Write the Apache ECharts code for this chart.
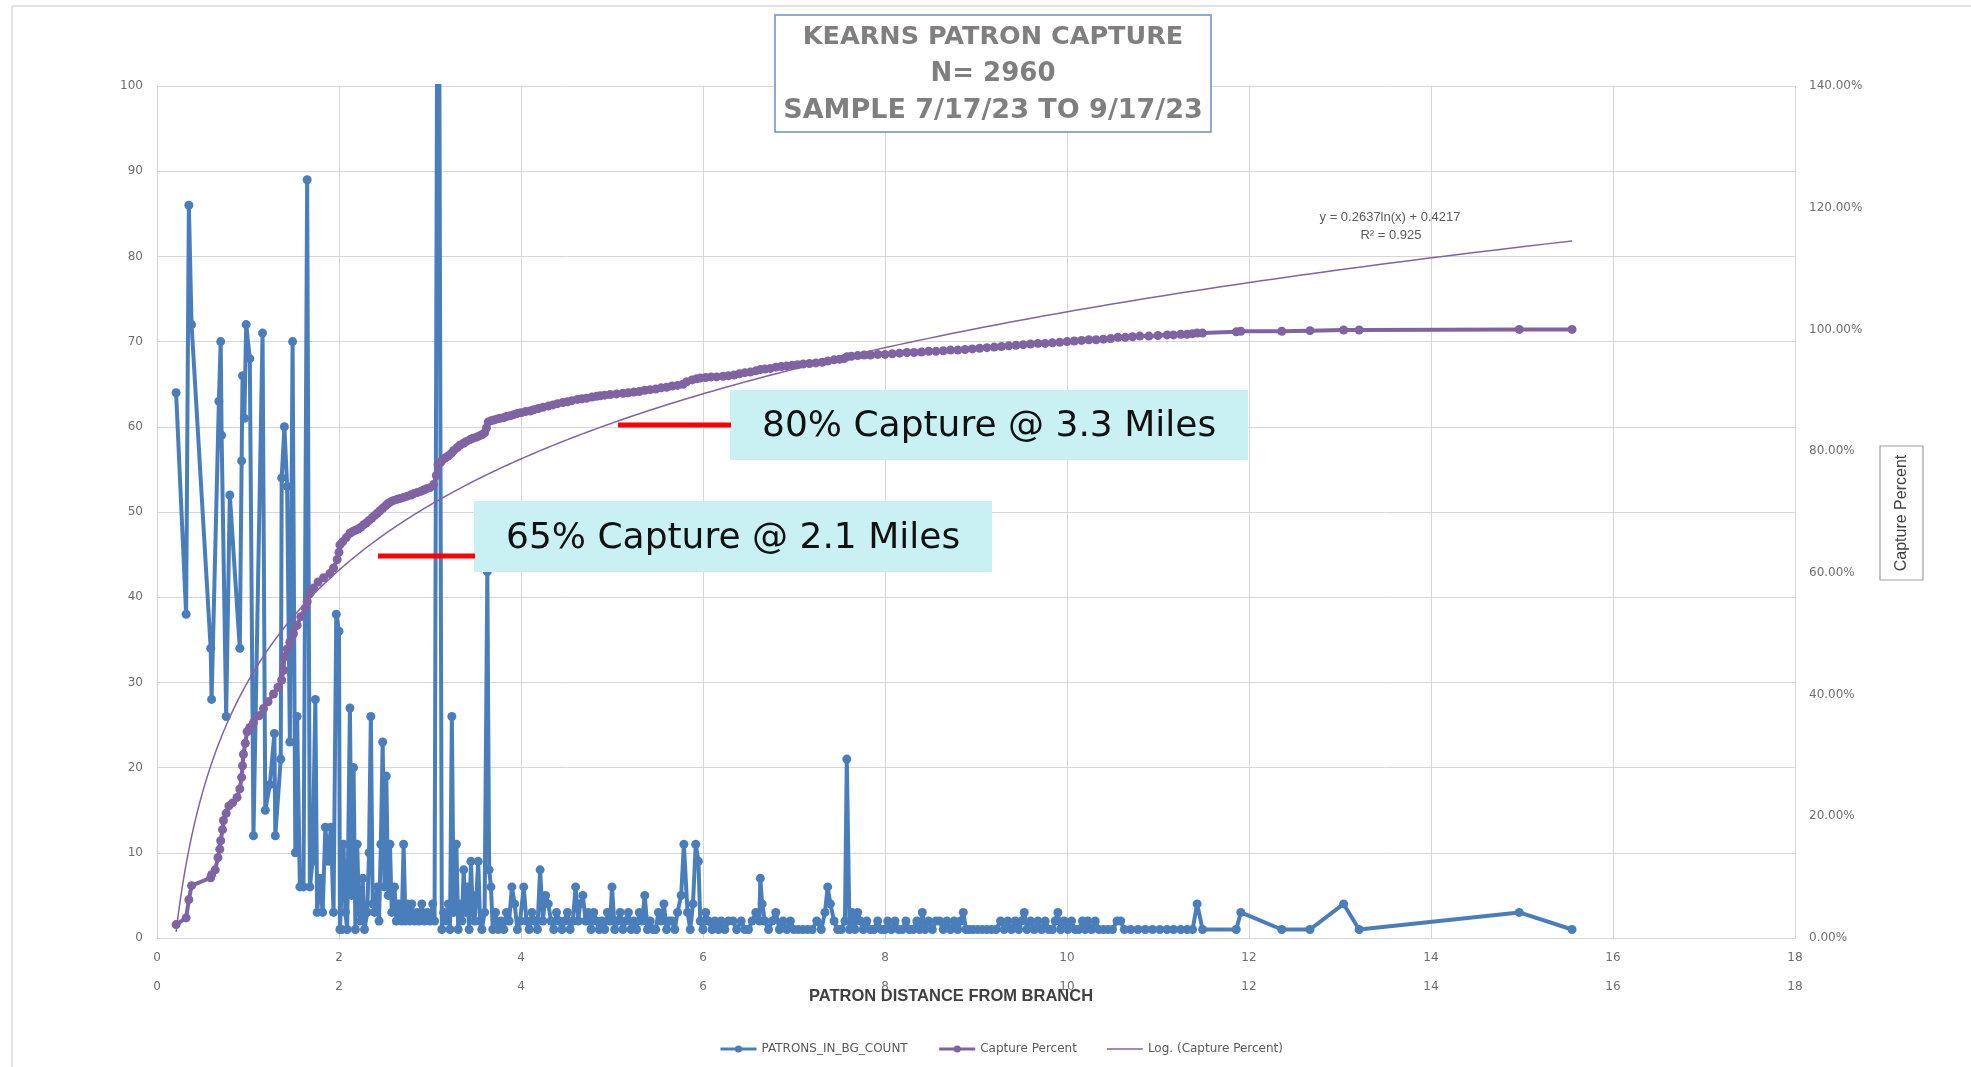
<!DOCTYPE html>
<html><head><meta charset="utf-8">
<script src="https://cdn.jsdelivr.net/npm/echarts/dist/echarts.min.js"></script>
<style>html,body{margin:0;padding:0;background:#fff}#c{width:1971px;height:1067px}</style>
</head><body><div id="c"></div>
<script>
// PATRONS_IN_BG_COUNT : distance (miles) and patron count per block group
const distance = [
0.21,0.32,0.35,0.38,0.59,0.60,0.68,0.70,0.71,0.76,0.80,0.91,0.93,0.94,0.96,0.98,1.02,1.06,1.16,1.19,
1.24,1.29,1.30,1.36,1.37,1.40,1.43,1.46,1.49,1.52,1.54,1.57,1.61,1.65,1.68,1.71,1.74,1.76,1.79,1.82,
1.85,1.88,1.91,1.94,1.97,2.00,
2.01,2.03,2.05,2.07,2.09,2.12,2.14,2.16,2.18,2.20,2.22,2.24,2.26,2.28,2.31,2.33,2.35,2.37,2.39,2.42,
2.44,2.46,2.48,2.50,2.52,2.54,2.56,2.58,2.61,2.63,2.66,2.69,2.71,2.73,2.75,2.78,2.80,2.83,2.86,2.88,
2.91,2.94,2.97,3.00,3.03,3.05,3.09,3.13,3.15,3.18,3.20,3.22,3.24,3.26,3.29,3.31,3.33,3.35,3.37,3.39,
3.41,3.43,3.45,3.47,3.49,3.51,3.53,3.55,3.57,3.60,3.63,3.65,3.67,3.69,3.72,3.75,3.78,3.81,3.84,3.87,
3.90,3.93,3.96,3.99,
4.03,4.06,4.09,4.12,4.15,4.18,4.21,4.24,4.27,4.30,4.33,4.36,4.39,4.42,4.45,4.48,4.51,4.54,4.57,4.60,
4.63,4.65,4.68,4.71,4.74,4.77,4.80,4.83,4.86,4.89,4.92,4.95,4.98,5.00,5.03,5.06,5.09,5.12,5.15,5.18,
5.21,5.24,5.27,5.30,5.33,5.36,5.39,5.42,5.45,5.48,5.51,5.54,5.57,5.60,5.63,5.66,5.69,5.72,5.76,5.79,
5.83,5.86,5.89,5.92,5.95,5.97,6.00,6.03,6.06,6.10,6.13,6.17,6.20,6.24,6.28,6.33,6.37,6.42,6.46,6.50,
6.54,6.58,6.62,6.63,6.65,6.68,6.72,6.76,6.80,6.84,6.88,6.92,6.96,7.00,7.05,7.10,7.15,7.20,7.25,7.30,
7.34,7.37,7.40,7.44,7.48,7.52,7.56,7.58,7.61,7.64,7.67,7.70,7.73,7.76,7.80,7.84,7.88,7.92,7.96,8.00,
8.03,8.07,8.11,8.15,8.19,8.23,8.27,8.31,8.35,8.38,8.41,8.44,8.48,8.52,8.56,8.60,8.64,8.68,8.72,8.76,
8.80,8.83,8.86,8.89,8.93,8.97,9.02,9.07,9.12,9.17,9.22,9.27,9.31,9.35,9.39,9.43,9.47,9.50,9.53,9.56,
9.60,9.64,9.68,9.72,9.76,9.80,9.84,9.87,9.90,9.93,9.97,10.01,10.05,10.09,10.13,10.17,10.20,10.23,10.27,10.31,
10.35,10.40,10.45,10.50,10.55,10.59,10.63,10.70,10.78,10.86,10.94,11.02,11.10,11.17,11.25,11.32,11.38,11.43,11.49,11.86,
11.91,12.36,12.67,13.04,13.21,14.97,15.55
];
const patrons = [
64,38,86,72,34,28,63,70,59,26,52,34,56,66,61,72,68,12,71,15,
18,24,12,21,54,60,53,23,70,10,26,6,6,89,6,9,28,3,7,3,
13,9,13,3,38,36,
1,1,11,3,1,27,5,20,1,11,3,2,7,1,3,10,26,4,3,6,
2,11,23,6,19,5,11,3,6,2,4,2,11,2,4,2,4,2,3,2,
4,2,3,2,4,2,150,1,3,2,4,1,26,3,11,1,4,2,8,3,
6,1,9,3,2,5,9,2,1,3,43,8,6,1,3,1,2,1,3,2,
6,4,1,2,
6,2,1,3,2,1,8,2,5,4,2,1,3,2,1,2,3,1,2,6,
2,4,5,2,3,1,3,2,1,2,1,3,2,6,1,2,3,1,2,3,
1,2,1,3,2,5,1,2,1,1,3,2,4,1,2,2,1,3,5,11,
3,1,4,11,9,2,1,3,2,1,2,1,2,1,2,2,1,2,1,1,
2,3,2,7,4,2,1,2,3,1,2,1,2,1,1,1,1,1,2,1,
3,6,4,2,1,1,2,21,1,3,1,3,2,1,2,1,1,2,1,1,
2,1,2,1,1,2,1,1,2,1,3,1,2,1,2,2,1,2,1,2,
1,2,3,1,1,1,1,1,1,1,1,2,1,2,1,2,1,2,3,1,
2,1,2,1,2,1,1,2,3,1,2,1,2,1,1,2,1,2,1,2,
1,1,1,1,2,2,1,1,1,1,1,1,1,1,1,1,1,4,1,1,
3,1,1,4,1,3,1
];
// Capture Percent : cumulative share of patrons (secondary axes)
const captureDistance = [
0.21,0.32,0.35,0.38,0.59,0.60,0.64,0.67,0.69,0.70,0.72,0.73,0.76,0.79,0.83,0.88,0.91,0.93,0.94,0.95,
0.97,0.99,1.02,1.06,1.12,1.17,1.22,1.28,1.33,1.37,1.39,1.40,1.43,1.46,1.50,1.54,1.58,1.63,1.65,1.68,
1.72,1.77,1.83,1.90,1.94,1.98,2.00,2.01,2.04,2.08,2.12,2.15,2.18,2.21,2.24,2.27,2.30,2.33,2.36,2.39,
2.42,2.45,2.48,2.51,2.54,2.57,2.60,2.64,2.67,2.71,2.75,2.79,2.82,2.86,2.90,2.93,2.96,3.00,3.04,3.07,
3.09,3.12,3.14,3.17,3.20,3.23,3.26,3.30,3.33,3.37,3.40,3.44,3.47,3.51,3.54,3.57,3.60,3.62,3.64,3.67,
3.70,3.74,3.77,3.81,3.84,3.88,3.92,3.96,4.00,4.05,4.10,4.14,4.19,4.24,4.30,4.35,4.40,4.46,4.51,4.56,
4.62,4.67,4.72,4.78,4.83,4.87,4.92,4.98,5.05,5.12,5.18,5.24,5.30,5.36,5.42,5.48,5.54,5.60,5.66,5.72,
5.78,5.82,5.88,5.93,5.97,6.03,6.09,6.15,6.22,6.28,6.34,6.40,6.46,6.52,6.58,6.63,6.68,6.74,6.80,6.86,
6.92,6.98,7.04,7.10,7.17,7.24,7.31,7.37,7.44,7.50,7.55,7.58,7.63,7.70,7.77,7.84,7.92,8.00,8.08,8.16,
8.24,8.32,8.40,8.48,8.56,8.64,8.72,8.80,8.88,8.96,9.04,9.12,9.20,9.28,9.36,9.44,9.52,9.60,9.68,9.76,
9.84,9.92,10.00,10.08,10.16,10.24,10.32,10.40,10.48,10.56,10.64,10.72,10.80,10.90,11.00,11.10,11.17,11.25,11.32,11.38,
11.43,11.49,11.86,11.91,12.36,12.67,13.04,13.21,14.97,15.55
];
const capturePercent = [
.022,.033,.063,.086,.099,.104,.112,.132,.146,.160,.178,.193,.205,.217,.222,.231,.245,.264,.283,.302,
.320,.339,.346,.354,.365,.377,.388,.401,.412,.424,.440,.462,.475,.486,.500,.514,.528,.542,.553,.566,
.575,.585,.592,.599,.608,.622,.634,.646,.651,.658,.665,.668,.670,.672,.675,.679,.682,.686,.690,.694,
.698,.702,.706,.710,.714,.717,.719,.721,.722,.724,.726,.728,.730,.732,.734,.736,.738,.740,.745,.760,
.778,.782,.786,.789,.792,.796,.801,.806,.810,.813,.816,.819,.821,.823,.825,.827,.830,.838,.848,.850,
.851,.853,.854,.855,.857,.858,.860,.862,.863,.865,.866,.868,.870,.872,.874,.876,.878,.880,.881,.883,
.885,.886,.887,.889,.890,.891,.892,.893,.894,.895,.896,.897,.898,.900,.901,.902,.904,.905,.907,.908,
.910,.914,.917,.919,.920,.921,.922,.922,.923,.924,.925,.927,.929,.930,.932,.934,.935,.936,.938,.939,
.940,.941,.942,.943,.944,.945,.946,.948,.950,.951,.952,.955,.956,.957,.958,.958,.959,.959,.960,.961,
.962,.962,.963,.964,.964,.965,.966,.966,.967,.968,.969,.970,.971,.972,.973,.974,.975,.976,.977,.977,
.978,.979,.980,.981,.982,.983,.983,.984,.985,.987,.987,.988,.989,.989,.990,.991,.991,.992,.992,.993,
.994,.994,.996,.997,.997,.998,.999,.999,1.000,1.000
];
// Logarithmic trendline as printed on the chart: y = 0.2637 ln(x) + 0.4217, R² = 0.925
const trendSlope = 0.2637;
const trendIntercept = 0.4217;
const trendFrom = 0.21, trendTo = 15.55;
const xTicks = [0,2,4,6,8,10,12,14,16,18];

const BLUE = '#4a7ebb', PURPLE = '#7f63a3', GRID = '#d6d6d6', LABEL = '#6e6e6e';
const blueData = distance.map((d,i)=>[d, patrons[i]]);
const capData = captureDistance.map((d,i)=>[d, capturePercent[i]]);
const trendData = [];
for (let i=0;i<=240;i++){ const x = trendFrom*Math.pow(trendTo/trendFrom, i/240); trendData.push([x, trendSlope*Math.log(x)+trendIntercept]); }

const chart = echarts.init(document.getElementById('c'), null, {renderer:'canvas'});
const labelFont = {fontFamily:'DejaVu Sans', fontSize:12, color:LABEL};
const xBase = {type:'value', min:xTicks[0], max:xTicks[xTicks.length-1], interval:2, position:'bottom',
  axisTick:{show:false}, axisLabel:Object.assign({margin:14}, labelFont)};
const mid = {align:'center', verticalAlign:'middle', textAlign:'center', textVerticalAlign:'middle'};
const lft = {align:'left', verticalAlign:'middle', textAlign:'left', textVerticalAlign:'middle'};
chart.setOption({
  animation:false,
  backgroundColor:'#fff',
  grid:{left:157, top:86, width:1638, height:852, containLabel:false},
  xAxis:[
    Object.assign({}, xBase, {axisLine:{show:true, lineStyle:{color:GRID, width:1}}, splitLine:{show:true, lineStyle:{color:GRID, width:1}}}),
    Object.assign({}, xBase, {offset:29, axisLine:{show:false}, splitLine:{show:false}})
  ],
  yAxis:[
    {type:'value', min:0, max:100, interval:10, position:'left', axisTick:{show:false},
     axisLine:{show:true, lineStyle:{color:GRID}}, splitLine:{show:true, lineStyle:{color:GRID, width:1}},
     axisLabel:Object.assign({margin:14}, labelFont)},
    {type:'value', min:0, max:1.4, interval:0.2, position:'right', axisTick:{show:false},
     axisLine:{show:true, lineStyle:{color:GRID}}, splitLine:{show:false},
     axisLabel:Object.assign({margin:14, formatter:v=>(v*100).toFixed(2)+'%'}, labelFont)}
  ],
  legend:{left:714, top:1038, itemWidth:36, itemHeight:9, itemGap:30,
    lineStyle:{width:3},
    textStyle:{fontFamily:'DejaVu Sans', fontSize:12, color:'#595959'},
    data:['PATRONS_IN_BG_COUNT','Capture Percent',
      {name:'Log. (Capture Percent)', icon:'path://M0,0 L36,0 L36,1.5 L0,1.5 Z'}]},
  series:[
    {name:'PATRONS_IN_BG_COUNT', type:'line', xAxisIndex:0, yAxisIndex:0, data:blueData,
     symbol:'circle', symbolSize:9, clip:true, z:2,
     lineStyle:{color:BLUE, width:4}, itemStyle:{color:BLUE}},
    {name:'Log. (Capture Percent)', type:'line', xAxisIndex:1, yAxisIndex:1, data:trendData,
     symbol:'none', showSymbol:false, z:3, lineStyle:{color:PURPLE, width:1.5}, itemStyle:{color:PURPLE}},
    {name:'Capture Percent', type:'line', xAxisIndex:1, yAxisIndex:1, data:capData,
     symbol:'circle', symbolSize:9, z:4,
     lineStyle:{color:PURPLE, width:4}, itemStyle:{color:PURPLE}}
  ],
  graphic:[
    {type:'line', shape:{x1:12,y1:6,x2:1971,y2:6}, style:{stroke:'#d9d9d9', lineWidth:1.5}, z:1},
    {type:'line', shape:{x1:12,y1:6,x2:12,y2:1067}, style:{stroke:'#d9d9d9', lineWidth:1.5}, z:1},
    {type:'rect', shape:{x:775,y:15,width:436,height:117}, style:{fill:'#fff', stroke:'#6a8fc0', lineWidth:1.5}, z:100},
    {type:'text', x:993, y:37, z:101, style:Object.assign({text:'KEARNS PATRON CAPTURE', font:'bold 25.5px "DejaVu Sans"', fill:'#7f7f7f'}, mid)},
    {type:'text', x:993, y:74, z:101, style:Object.assign({text:'N= 2960', font:'bold 26px "DejaVu Sans"', fill:'#7f7f7f'}, mid)},
    {type:'text', x:993, y:111, z:101, style:Object.assign({text:'SAMPLE 7/17/23 TO 9/17/23', font:'bold 27px "DejaVu Sans"', fill:'#7f7f7f'}, mid)},
    {type:'text', x:1390, y:217, z:101, style:Object.assign({text:'y = 0.2637ln(x) + 0.4217', font:'13px "Liberation Sans"', fill:'#595959'}, mid)},
    {type:'text', x:1391, y:235, z:101, style:Object.assign({text:'R² = 0.925', font:'13px "Liberation Sans"', fill:'#595959'}, mid)},
    {type:'rect', shape:{x:730,y:390,width:518,height:70}, style:{fill:'#c9f1f3'}, z:100},
    {type:'line', shape:{x1:618,y1:425,x2:731,y2:425}, style:{stroke:'#ff0000', lineWidth:5}, z:100},
    {type:'text', x:762, y:427, z:101, style:Object.assign({text:'80% Capture @ 3.3 Miles', font:'36px "DejaVu Sans"', fill:'#111'}, lft)},
    {type:'rect', shape:{x:474,y:501,width:518,height:71}, style:{fill:'#c9f1f3'}, z:100},
    {type:'line', shape:{x1:378,y1:556,x2:475,y2:556}, style:{stroke:'#ff0000', lineWidth:5}, z:100},
    {type:'text', x:506, y:539, z:101, style:Object.assign({text:'65% Capture @ 2.1 Miles', font:'36px "DejaVu Sans"', fill:'#111'}, lft)},
    {type:'rect', shape:{x:1880,y:446,width:43,height:134}, style:{fill:'#fff', stroke:'#a0a0a0', lineWidth:1.2}, z:100},
    {type:'text', x:1902, y:513, rotation:Math.PI/2, z:101, style:Object.assign({text:'Capture Percent', font:'16px "Liberation Sans"', fill:'#404040'}, mid)},
    {type:'text', x:951, y:996, z:101, style:Object.assign({text:'PATRON DISTANCE FROM BRANCH', font:'bold 16.5px "Liberation Sans"', fill:'#404040'}, mid)}
  ]
});
</script></body></html>
